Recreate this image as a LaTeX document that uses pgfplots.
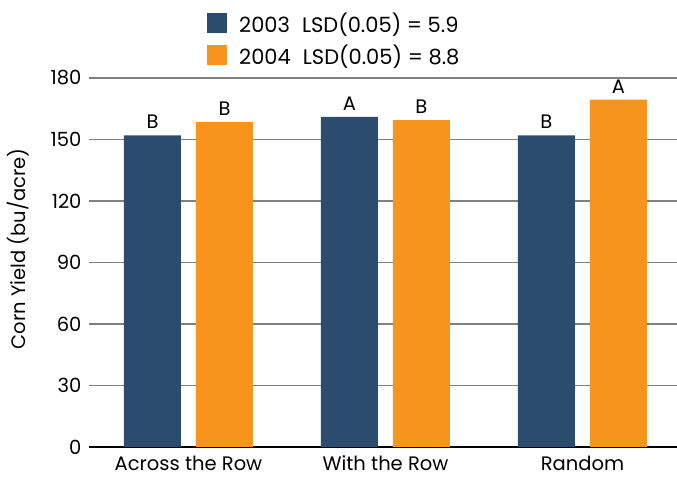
\documentclass[border=0pt]{standalone}
\usepackage{pgfplots}
\pgfplotsset{compat=1.18}
\usepackage{fontspec}
\setmainfont{Poppins}
\definecolor{cblue}{RGB}{42,77,110}
\definecolor{corange}{RGB}{247,148,29}
\definecolor{cgrid}{RGB}{128,128,128}
\newcommand{\fs}{\fontsize{19.5bp}{23bp}\selectfont}
\newcommand{\fl}{\fontsize{21bp}{25bp}\selectfont}
\begin{document}
\begin{tikzpicture}
\path[use as bounding box] (0,0) rectangle (677bp,477bp);
\begin{axis}[
  at={(89bp,30bp)}, anchor=south west,
  scale only axis, width=588bp, height=369bp,
  xmin=-0.505, xmax=2.48, ymin=0, ymax=180,
  axis x line*=bottom, axis y line*=left,
  y axis line style={draw=none},
  ytick={0,30,...,180},
  ymajorgrids, grid style={cgrid, line width=1.2pt},
  xtick={0,1,2},
  xticklabels={Across the Row, With the Row, Random},
  major tick length=0,
  x axis line style={black, line width=1.2pt},
  ticklabel style={font=\fs},
  /pgf/number format/assume math mode=true,
  yticklabel style={xshift=-4bp},
  xticklabel style={yshift=-7.5bp, text depth=0pt, inner sep=1bp},
  ylabel={Corn Yield (bu/acre)},
  every axis y label/.style={at={(axis description cs:-0.1207,0.537)}, rotate=90, anchor=center, font=\fs},
  ybar, bar width=57bp,
  nodes near coords, point meta=explicit symbolic,
  nodes near coords style={font=\fs, black, anchor=south, yshift=3bp},
  legend style={at={(axis description cs:0.2007,1.183)}, anchor=north west, draw=none, fill=none,
    font=\fl, row sep=7bp, inner sep=0pt},
  legend cell align=left,
  legend image code/.code={\fill[#1] (0bp,-10bp) rectangle (20bp,10bp);},
]
\addplot[fill=cblue, draw=none, bar shift=-36bp] table[meta=l] {
x y l
0 152 B
1 161 A
2 152 B
};
\addlegendentry{\hspace{10bp}2003\hspace{12bp}LSD(0.05) = 5.9}
\addplot[fill=corange, draw=none, bar shift=36bp] table[meta=l] {
x y l
0 158.5 B
1 159.5 B
2 169.5 A
};
\addlegendentry{\hspace{10bp}2004\hspace{12bp}LSD(0.05) = 8.8}
\end{axis}
\end{tikzpicture}
\end{document}
